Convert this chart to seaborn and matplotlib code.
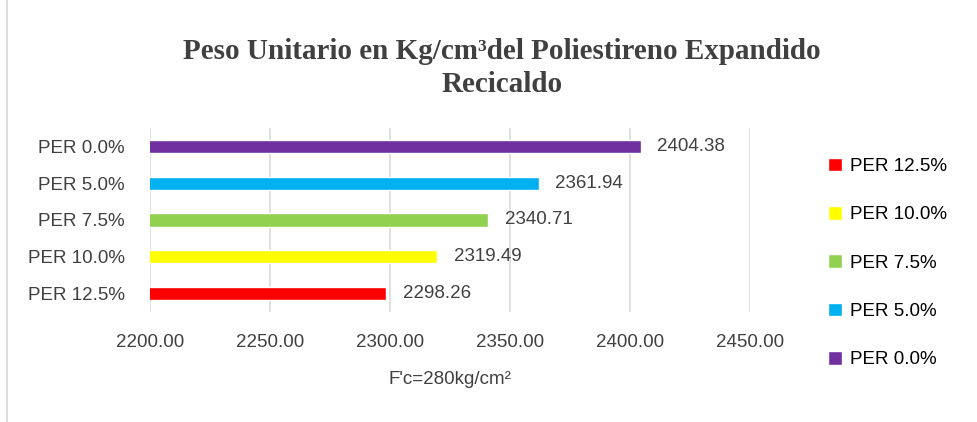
import matplotlib
matplotlib.use("Agg")
import matplotlib.pyplot as plt
import seaborn as sns
import pandas as pd
from matplotlib.patches import Patch
from matplotlib.ticker import FormatStrFormatter, MultipleLocator

categories = ["PER 0.0%", "PER 5.0%", "PER 7.5%", "PER 10.0%", "PER 12.5%"]
values = [2404.38, 2361.94, 2340.71, 2319.49, 2298.26]
colors = ["#7030A0", "#00B0F0", "#92D050", "#FFFF00", "#FF0000"]
title = "Peso Unitario en Kg/cm³del Poliestireno Expandido\nRecicaldo"
xlabel = "F'c=280kg/cm²"

df = pd.DataFrame({"cat": categories, "val": values})

sns.set_theme(style="white")
plt.rcParams['font.family'] = ['Liberation Sans', 'DejaVu Sans']

fig = plt.figure(figsize=(9.78, 4.22), dpi=100)
ax = fig.add_axes([150/978, 1-312/422, 600/978, 184/422])

sns.barplot(data=df, y="cat", x="val", hue="cat", order=categories,
            hue_order=categories, palette=colors, dodge=False, saturation=1,
            width=0.36, legend=False, ax=ax, orient="h")

ax.set_xlim(2200, 2450)
ax.xaxis.set_major_locator(MultipleLocator(50))
ax.xaxis.set_major_formatter(FormatStrFormatter("%.2f"))
ax.grid(axis="x", color="#D9D9D9", linewidth=1.2)
ax.set_axisbelow(True)
for s in ax.spines.values():
    s.set_visible(False)
ax.tick_params(axis="y", length=0, labelsize=13.5, labelcolor="#404040", pad=18)
ax.tick_params(axis="x", length=0, labelsize=13.5, labelcolor="#404040", pad=16)
ax.set_ylabel("")
ax.set_xlabel(xlabel, fontsize=13.5, color="#404040", labelpad=14)

for i, v in enumerate(values):
    ax.text(v + 7, i, f"{v:.2f}", va="center", ha="left", fontsize=13.5, color="#404040")

fig.text(0.513, 1-68/422, title, ha="center", va="center", fontsize=21,
         fontweight="bold", family=["Liberation Serif", "DejaVu Serif"],
         color="#404040", linespacing=1.25)

handles = [Patch(facecolor=c, label=l) for c, l in zip(colors[::-1], categories[::-1])]
fig.legend(handles=handles, loc="center left", bbox_to_anchor=(828/978, 1-263/422),
           frameon=False, fontsize=13.5, labelspacing=1.65, handlelength=0.75,
           handleheight=0.75, handletextpad=0.45, labelcolor="#000000",
           borderaxespad=0, borderpad=0)

fig.add_artist(plt.Line2D([7/978, 7/978], [0, 1], color="#D9D9D9", lw=1.2,
                          transform=fig.transFigure))

fig.savefig("out.png", dpi=100)
